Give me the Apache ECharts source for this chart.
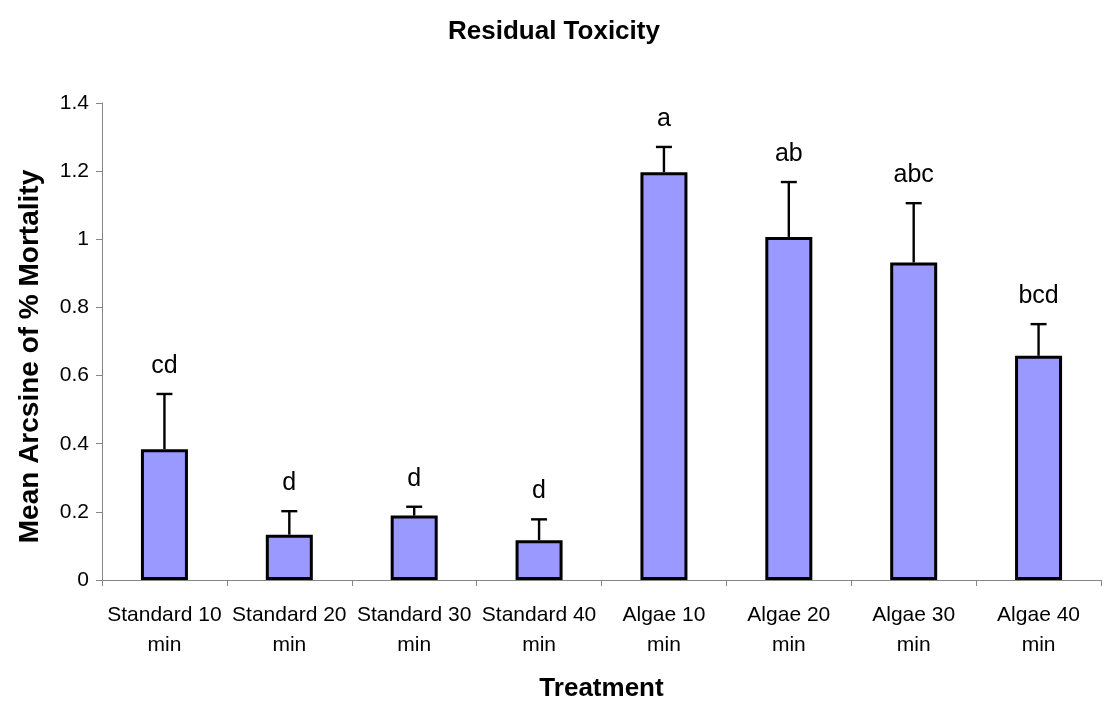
<!DOCTYPE html>
<html>
<head>
<meta charset="utf-8">
<script src="https://cdn.jsdelivr.net/npm/echarts@6/dist/echarts.min.js"></script>
<style>
  html, body { margin: 0; padding: 0; background: #fff; }
  #chart { width: 1112px; height: 709px; }
</style>
</head>
<body>
<div id="chart"></div>
<script>
// Treatments on the category axis
const categories = [
  'Standard 10 min', 'Standard 20 min', 'Standard 30 min', 'Standard 40 min',
  'Algae 10 min', 'Algae 20 min', 'Algae 30 min', 'Algae 40 min'
];
// Mean arcsine-transformed % mortality per treatment
const meanValues = [0.384, 0.133, 0.189, 0.117, 1.197, 1.007, 0.932, 0.658];
// Standard error (upper whisker length)
const stdErrors = [0.162, 0.069, 0.026, 0.061, 0.074, 0.161, 0.174, 0.093];
// Significance group letters
const groupLetters = ['cd', 'd', 'd', 'd', 'a', 'ab', 'abc', 'bcd'];
// Value-axis ticks
const yTicks = { min: 0, max: 1.4, interval: 0.2 };

const FONT = '"Liberation Sans", Arial, Helvetica, sans-serif';

const chart = echarts.init(document.getElementById('chart'), null, { renderer: 'canvas' });

const errorData = meanValues.map((m, i) => [i, m, m + stdErrors[i], groupLetters[i]]);

chart.setOption({
  animation: false,
  backgroundColor: '#ffffff',
  title: {
    text: 'Residual Toxicity',
    left: 443,
    top: 14,
    textStyle: { fontFamily: FONT, fontSize: 26, fontWeight: 'bold', color: '#000' }
  },
  grid: { left: 102, right: 11, top: 103, bottom: 129, containLabel: false },
  xAxis: {
    type: 'category',
    data: categories,
    name: 'Treatment',
    nameLocation: 'middle',
    nameGap: 96,
    nameTextStyle: { fontFamily: FONT, fontSize: 26, fontWeight: 'bold', color: '#000' },
    axisLine: { lineStyle: { color: '#868686', width: 1 } },
    axisTick: { show: true, length: 6, lineStyle: { color: '#868686' } },
    axisLabel: {
      interval: 0,
      margin: 20,
      fontFamily: FONT,
      fontSize: 21,
      lineHeight: 30,
      color: '#000',
      formatter: v => v.replace(/ (min)$/, '\n$1')
    },
    splitLine: { show: false }
  },
  yAxis: {
    type: 'value',
    min: yTicks.min,
    max: yTicks.max,
    interval: yTicks.interval,
    name: 'Mean Arcsine of % Mortality',
    nameLocation: 'middle',
    nameGap: 58,
    nameTextStyle: {
      fontFamily: FONT, fontSize: 28, fontWeight: 'bold', color: '#000',
      padding: [0, 30, 0, 0]
    },
    axisLine: { show: true, lineStyle: { color: '#868686', width: 1 } },
    axisTick: { show: true, length: 6, lineStyle: { color: '#868686' } },
    axisLabel: { margin: 13, fontFamily: FONT, fontSize: 21, color: '#000' },
    splitLine: { show: false }
  },
  series: [
    {
      type: 'bar',
      data: meanValues,
      barWidth: 47,
      itemStyle: { color: '#9999FF', borderColor: '#000', borderWidth: 3 },
      z: 2
    },
    {
      type: 'custom',
      data: errorData,
      z: 3,
      renderItem: (params, api) => {
        const x = api.value(0);
        const base = api.coord([x, api.value(1)]);
        const top = api.coord([x, api.value(2)]);
        const half = 8;
        const style = { stroke: '#000', lineWidth: 2.4 };
        return {
          type: 'group',
          children: [
            { type: 'line', shape: { x1: base[0], y1: base[1], x2: top[0], y2: top[1] }, style },
            { type: 'line', shape: { x1: top[0] - half, y1: top[1], x2: top[0] + half, y2: top[1] }, style },
            {
              type: 'text',
              x: top[0],
              y: top[1] - 28,
              style: {
                text: api.value(3),
                fontFamily: FONT,
                fontSize: 25,
                fill: '#000',
                align: 'center',
                verticalAlign: 'middle'
              }
            }
          ]
        };
      },
      encode: { x: 0, y: [1, 2] }
    }
  ]
});
</script>
</body>
</html>
